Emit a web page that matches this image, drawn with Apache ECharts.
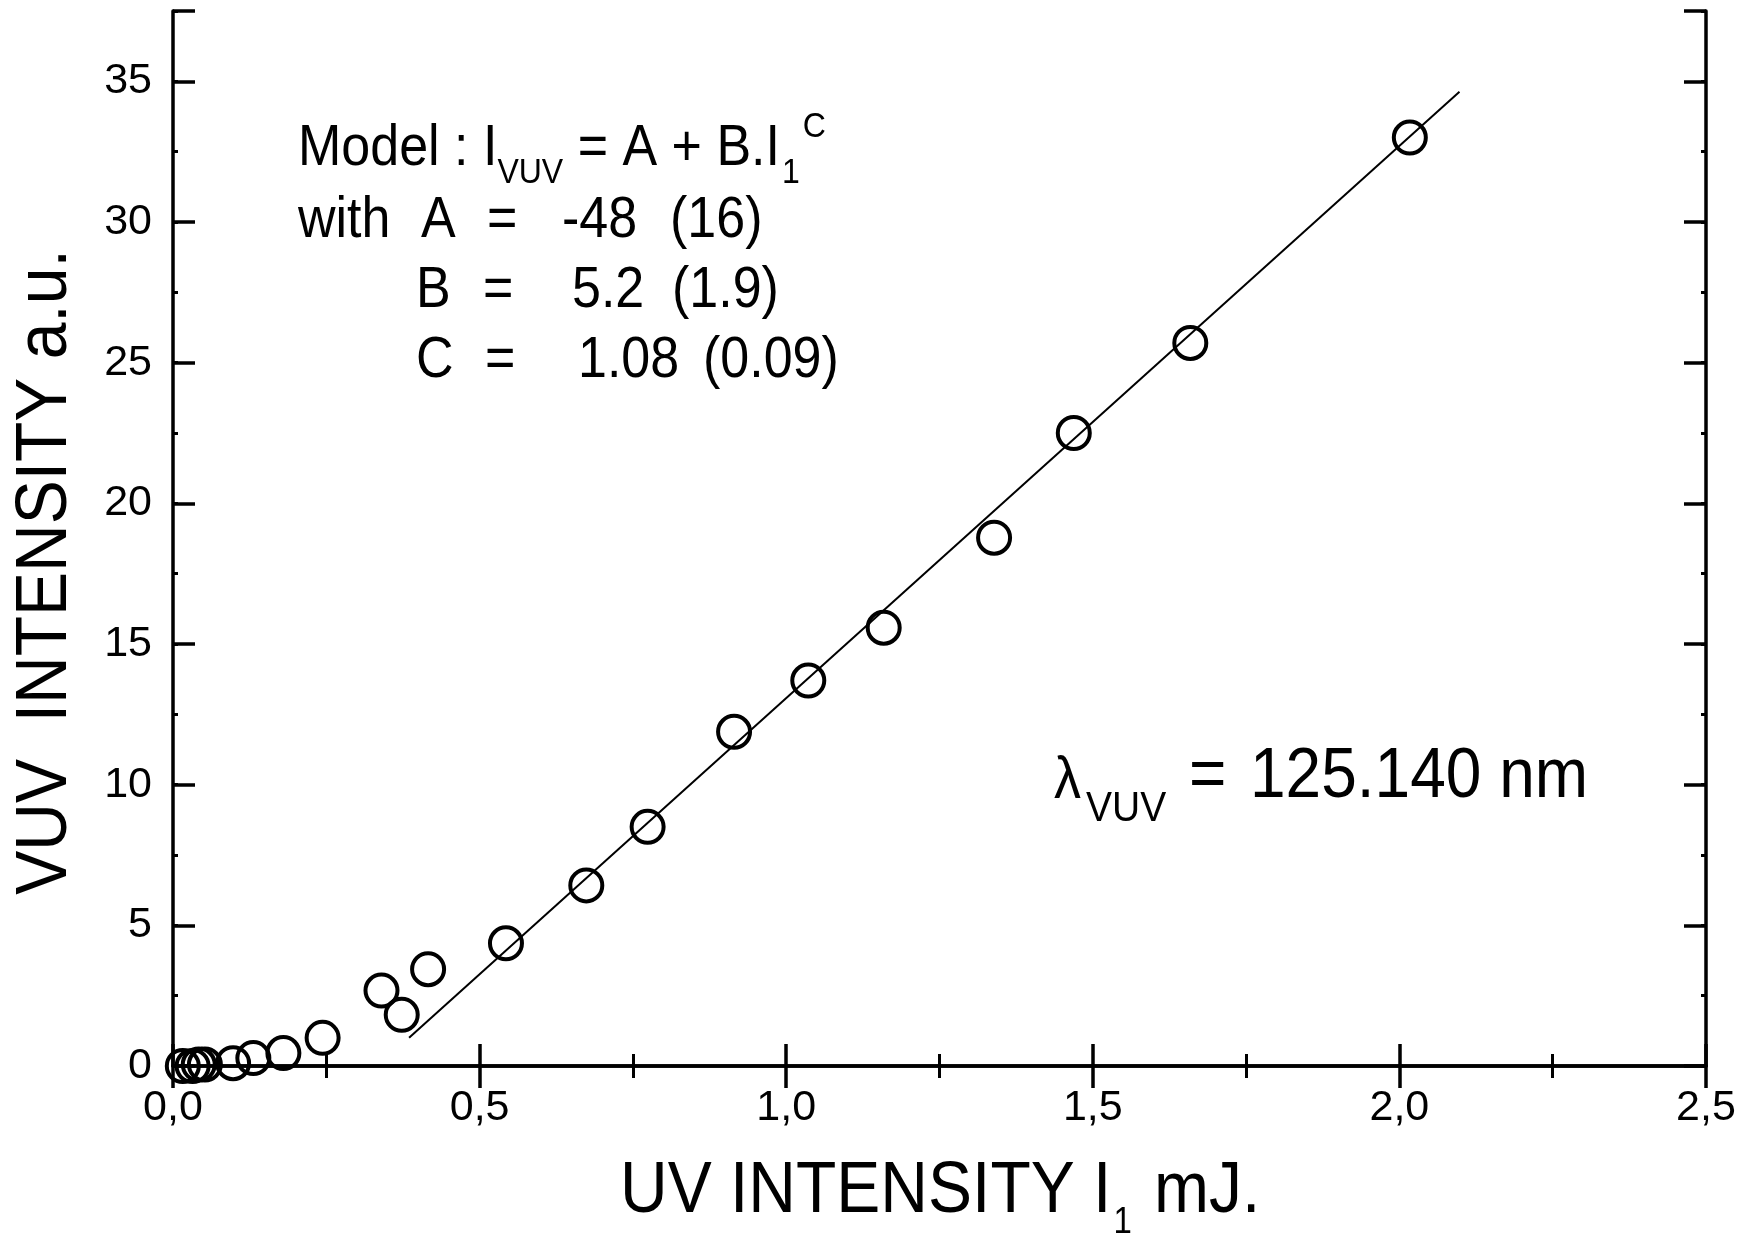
<!DOCTYPE html>
<html>
<head>
<meta charset="utf-8">
<script src="https://cdn.jsdelivr.net/npm/echarts@6/dist/echarts.min.js"></script>
<style>
    html, body { margin: 0; padding: 0; background: #fff; }
    #chart { width: 1744px; height: 1237px; }
</style>
</head>
<body>
<div id="chart"></div>
<script>
    // UV pulse energy (mJ) and measured VUV signal (a.u.)
    var uvIntensity = [0.016, 0.032, 0.042, 0.052, 0.098, 0.131, 0.180, 0.244, 0.340, 0.373, 0.416,
                       0.543, 0.674, 0.774, 0.915, 1.036, 1.159, 1.339, 1.469, 1.659, 2.017];
    var vuvIntensity = [0.0, 0.0, 0.05, 0.05, 0.1, 0.28, 0.46, 1.0, 2.68, 1.82, 3.44,
                        4.36, 6.42, 8.50, 11.88, 13.70, 15.58, 18.78, 22.50, 25.70, 33.0];
    // fitted curve, read at its two ends
    var fitX = [0.385, 2.098];
    var fitY = [1.0, 34.63];

    var xTickLabels = ['0,0', '0,5', '1,0', '1,5', '2,0', '2,5'];
    var yTickLabels = ['0', '5', '10', '15', '20', '25', '30', '35'];

    var FONT = '"Liberation Sans", Arial, sans-serif';
    var SY = 1.1;   // the original lettering is a little taller than Arial

    var points = uvIntensity.map(function (x, i) { return [x, vuvIntensity[i]]; });
    var fitLine = fitX.map(function (x, i) { return [x, fitY[i]]; });

    var measure = document.createElement('canvas').getContext('2d');
    function textWidth(s, size) {
        measure.font = size + 'px ' + FONT;
        return measure.measureText(s).width;
    }

    // text piece placed by its left edge and centre line
    function piece(s, x, cy, size) {
        return {
            type: 'text', x: x, y: cy, scaleY: SY, silent: true,
            style: { text: s, fontSize: size, fontFamily: FONT, fill: '#000',
                     textAlign: 'left', textVerticalAlign: 'middle' }
        };
    }
    // text piece placed by its baseline
    function txt(s, x, baseline, size) {
        return piece(s, x, baseline - 0.35 * size * SY, size);
    }
    // a run of pieces one after another: [text, size, shift of centre from baseline or null, extra gap]
    function run(x, baseline, parts) {
        var out = [];
        parts.forEach(function (p) {
            if (p[2] === null) out.push(txt(p[0], x, baseline, p[1]));
            else out.push(piece(p[0], x, baseline + p[2], p[1]));
            x += textWidth(p[0], p[1]) + (p[3] || 0);
        });
        return out;
    }

    var blackLine = { show: true, lineStyle: { color: '#000', width: 3.5 } };

    function xAx(pos, labels) {
        return {
            type: 'value', position: pos, min: 0, max: 2.5, interval: 0.5,
            axisLine: blackLine,
            axisTick: { show: true, inside: true, length: 22, lineStyle: { color: '#000', width: 3.5 } },
            minorTick: { show: true, splitNumber: 2, length: 12, lineStyle: { color: '#000', width: 3 } },
            splitLine: { show: false },
            axisLabel: {
                show: labels, margin: 21, fontSize: 43, fontFamily: FONT, color: '#000',
                formatter: function (v) { return xTickLabels[Math.round(v / 0.5)]; }
            }
        };
    }
    function yAx(pos, labels) {
        return {
            type: 'value', position: pos, min: 0, max: 37.5, interval: 5,
            axisLine: blackLine,
            axisTick: { show: true, inside: true, length: 22, lineStyle: { color: '#000', width: 3.5 } },
            splitLine: { show: false },
            axisLabel: {
                show: labels, margin: 21, fontSize: 43, fontFamily: FONT, color: '#000',
                formatter: function (v) { return v % 5 === 0 ? yTickLabels[v / 5] : ''; }
            }
        };
    }
    function yMinor(pos) {
        return {
            type: 'value', position: pos, min: 0, max: 37.5, interval: 2.5,
            axisLine: { show: false },
            axisTick: { show: true, inside: true, length: 5, lineStyle: { color: '#000', width: 3 } },
            splitLine: { show: false },
            axisLabel: { show: false }
        };
    }

    var graphics = [{
        type: 'text', x: 46, y: 572, rotation: Math.PI / 2, scaleY: SY, silent: true,
        style: { text: 'VUV  INTENSITY a.u.', fontSize: 66, fontFamily: FONT, fill: '#000',
                 textAlign: 'center', textVerticalAlign: 'middle' }
    }];
    graphics = graphics.concat(
        // x axis title
        run(620, 1217, [['UV INTENSITY I', 66, null, 2], ['1', 33, 6, 4], [' mJ.', 66, null]]),

        // model annotation
        run(298, 169, [['Model : I', 52, null], ['VUV', 32, 4], [' = A + B.I', 52, null, 2], ['1', 32, 4, 3], ['C', 32, -42]]),
        [
            txt('with', 298, 241, 52),
            txt('A', 421, 241, 52),
            txt('=', 487, 241, 52),
            txt('-48', 562, 241, 52),
            txt('(16)', 670, 241, 52),

            txt('B', 416, 311, 52),
            txt('=', 483, 311, 52),
            txt('5.2', 572, 311, 52),
            txt('(1.9)', 672, 311, 52),

            txt('C', 416, 381, 52),
            txt('=', 485, 381, 52),
            txt('1.08', 578, 381, 52),
            txt('(0.09)', 703, 381, 52)
        ],

        // wavelength
        [
            txt('\u03bb', 1054, 802, 54),
            piece('VUV', 1086, 809, 39),
            txt('=', 1189, 802, 64),
            txt('125.140 nm', 1250, 802, 64)
        ]
    );

    var chart = echarts.init(document.getElementById('chart'));
    var option = {
        backgroundColor: '#fff',
        animation: false,
        grid: { left: 173, right: 38, top: 11, bottom: 171 },
        xAxis: [xAx('bottom', true), xAx('top', false)],
        yAxis: [yAx('left', true), yMinor('left'), yAx('right', false), yMinor('right')],
        series: [{
            type: 'line',
            data: fitLine,
            xAxisIndex: 0, yAxisIndex: 0,
            showSymbol: false,
            symbol: 'none',
            lineStyle: { color: '#000', width: 2 },
            z: 2
        }, {
            type: 'scatter',
            data: points,
            xAxisIndex: 0, yAxisIndex: 0,
            symbol: 'circle',
            symbolSize: 32,
            itemStyle: { color: 'rgba(0,0,0,0)', borderColor: '#000', borderWidth: 4, opacity: 1 },
            z: 3
        }],
        graphic: graphics
    };
    chart.setOption(option);
</script>
</body>
</html>
